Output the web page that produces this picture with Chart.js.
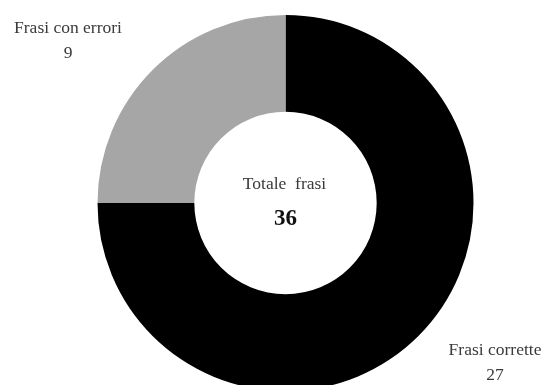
<!DOCTYPE html>
<html>
<head>
<meta charset="utf-8">
<script src="https://cdn.jsdelivr.net/npm/chart.js@4.4.0/dist/chart.umd.min.js"></script>
<style>
  html, body { margin: 0; padding: 0; background: #fff; overflow: hidden; }
  #frasiChart { display: block; }
</style>
</head>
<body>
<canvas id="frasiChart" width="545" height="410"></canvas>
<script>
const categories = ['Frasi corrette', 'Frasi con errori'];
const values = [27, 9];
const colors = ['#000000', '#a6a6a6'];
const centerTitle = 'Totale frasi';

const serif = '"Liberation Serif", "Times New Roman", serif';

// labels outside the ring plus the total in the hole
const labelPlugin = {
  id: 'frasiLabels',
  afterDraw(chart) {
    const { ctx } = chart;
    const arc = chart.getDatasetMeta(0).data[0];
    const cx = arc.x, cy = arc.y;
    const total = values.reduce((a, b) => a + b, 0);

    ctx.save();
    ctx.textAlign = 'center';
    ctx.textBaseline = 'middle';

    ctx.fillStyle = '#3a3a3a';
    ctx.font = '17.5px ' + serif;
    ctx.fillText(centerTitle.replace(' ', '  '), cx - 1, cy - 19);
    ctx.fillStyle = '#111';
    ctx.font = 'bold 23px ' + serif;
    ctx.fillText(String(total), cx, cy + 16);

    const spots = [
      { x: 495, y: 350 },  // Frasi corrette
      { x: 68, y: 28 }     // Frasi con errori
    ];
    ctx.fillStyle = '#3a3a3a';
    ctx.font = '17.5px ' + serif;
    categories.forEach((name, i) => {
      ctx.fillText(name, spots[i].x, spots[i].y);
      ctx.fillText(String(values[i]), spots[i].x, spots[i].y + 25);
    });
    ctx.restore();
  }
};

new Chart(document.getElementById('frasiChart'), {
  type: 'doughnut',
  data: {
    labels: categories,
    datasets: [{
      data: values,
      backgroundColor: colors,
      borderWidth: 0
    }]
  },
  options: {
    responsive: false,
    animation: false,
    cutout: '48.5%',
    layout: {
      padding: { top: 15, bottom: 19, left: 26, right: 0 }
    },
    plugins: {
      legend: { display: false },
      tooltip: { enabled: false }
    }
  },
  plugins: [labelPlugin]
});
</script>
</body>
</html>
